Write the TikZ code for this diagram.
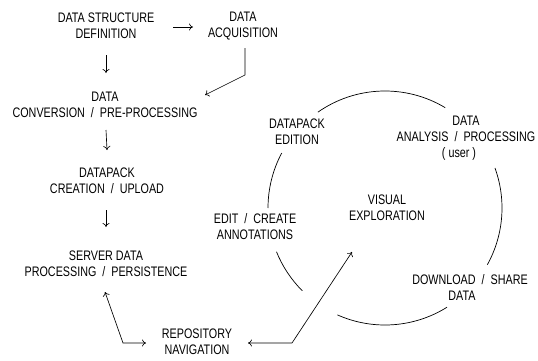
\documentclass[tikz,border=0pt]{standalone}
\usepackage{fontspec}
\setmainfont{Liberation Sans}[FakeStretch=0.78]
\usetikzlibrary{calc,arrows.meta}
\newcommand\slsep{\ \ /\ \ }
\begin{document}
\begin{tikzpicture}[x=1pt,y=1pt,
  lbl/.style={inner sep=0pt,align=center,font=\fontsize{13.8}{16}\selectfont},
  arr/.style={-{To[length=4pt,width=7pt]},line width=0.65pt},
  darr/.style={{To[length=4pt,width=7pt]}-{To[length=4pt,width=7pt]},line width=0.65pt},
  ring/.style={line width=0.7pt}]
\useasboundingbox (0,0) rectangle (538,360);
% left chain
\node[lbl] (dsd) at (106,334) {DATA STRUCTURE\\DEFINITION};
\node[lbl] (acq) at (243,334) {DATA\\ACQUISITION};
\node[lbl] (conv) at (105,255) {DATA\\CONVERSION\slsep PRE-PROCESSING};
\node[lbl] (dpc) at (107,179) {DATAPACK\\CREATION\slsep UPLOAD};
\node[lbl] (srv) at (106,96) {SERVER DATA\\PROCESSING\slsep PERSISTENCE};
\node[lbl] (repo) at (197,18) {REPOSITORY\\NAVIGATION};
% cycle
\node[lbl] (dpe) at (297,228) {DATAPACK\\EDITION};
\node[lbl] (dap) at (466,222) {DATA\\ANALYSIS\slsep PROCESSING\\( user )\hspace*{14pt}};
\node[lbl] (vis) at (387,152) {VISUAL\\EXPLORATION};
\node[lbl] (edit) at (255,133) {EDIT\slsep CREATE\\ANNOTATIONS};
\node[lbl] (dl) at (470,73) {DOWNLOAD\slsep SHARE\\DATA\hspace*{16pt}};
\coordinate (cc) at (385,152);
% ring arcs
\draw[ring] ($(cc)+(59:117)$) arc[start angle=59,end angle=125,radius=117];
\draw[ring] ($(cc)+(152:117)$) arc[start angle=152,end angle=180,radius=117];
\draw[ring] ($(cc)+(202:117)$) arc[start angle=202,end angle=225,radius=117];
\draw[ring] ($(cc)+(246:117)$) arc[start angle=246,end angle=302,radius=117];
\draw[ring] ($(cc)+(-29:117)$) arc[start angle=-29,end angle=20,radius=117];
% connectors
\draw[arr] ([shift={(67,-1)}]dsd.center) -- ([shift={(-50,-1)}]acq.center);
\draw[arr] ([shift={(0,-29)}]dsd.center) -- ([shift={(1,32)}]conv.center);
\draw[arr] ([shift={(2,-22)}]acq.center) -- ([shift={(2,-49)}]acq.center) -- ([shift={(100,10)}]conv.center);
\draw[arr] ([shift={(1,-25)}]conv.center) -- ([shift={(0,31)}]dpc.center);
\draw[arr] ([shift={(-1,-29)}]dpc.center) -- ([shift={(0,37)}]srv.center);
\draw[darr] ([shift={(-1,-28)}]srv.center) -- ([shift={(-74,-1)}]repo.center) -- ([shift={(-51,-1)}]repo.center);
\draw[darr] ([shift={(51,-1)}]repo.center) -- ([shift={(95,-1)}]repo.center) -- ([shift={(-35,-44)}]vis.center);
\end{tikzpicture}
\end{document}
